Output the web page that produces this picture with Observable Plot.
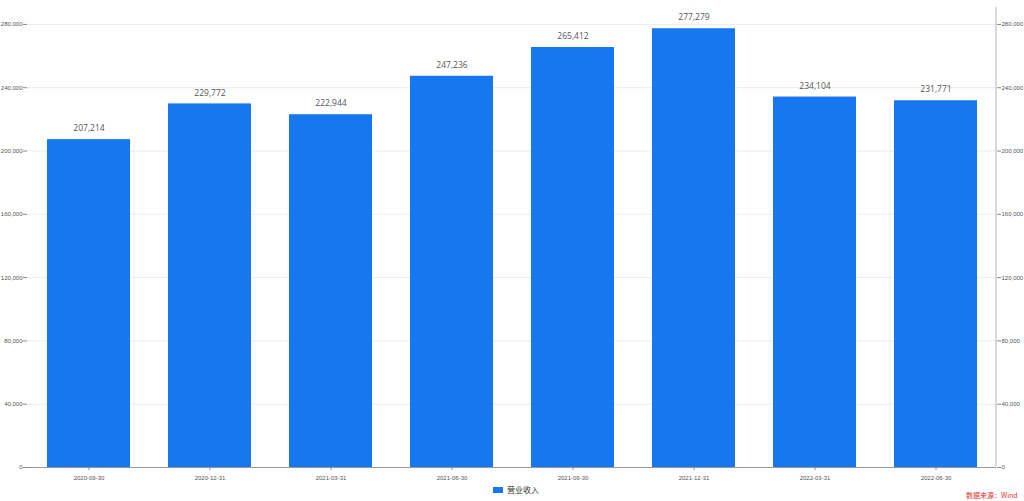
<!DOCTYPE html>
<html>
<head>
<meta charset="utf-8">
<script src="https://cdn.jsdelivr.net/npm/d3@7"></script>
<script src="https://cdn.jsdelivr.net/npm/@observablehq/plot@0.6"></script>
<style>
  html, body { margin: 0; padding: 0; background: #fff; }
  #wrap { position: relative; width: 1024px; height: 501px; overflow: hidden; font-family: "Noto Sans CJK SC", "Liberation Sans", sans-serif; }
  #legend { position: absolute; left: 493px; top: 484px; font-size: 8px; color: #333; display: flex; align-items: center; white-space: nowrap; }
  #legend .sw { width: 10px; height: 6px; background: #1677F0; margin-right: 4px; }
  #source { position: absolute; left: 966px; top: 490px; font-size: 7px; color: #e0302a; white-space: nowrap; }
</style>
</head>
<body>
<div id="wrap">
  <div id="chart"></div>
  <div id="legend"><span class="sw"></span><span id="legendLabel"></span></div>
  <div id="source"></div>
</div>
<script>
const dates = ["2020-09-30","2020-12-31","2021-03-31","2021-06-30","2021-09-30","2021-12-31","2022-03-31","2022-06-30"];
const revenue = [207214, 229772, 222944, 247236, 265412, 277279, 234104, 231771];
const seriesName = "营业收入";
const sourceText = "数据来源：Wind";
const yTicks = [0, 40000, 80000, 120000, 160000, 200000, 240000, 280000];
const barColor = "#1677F0";

const data = dates.map((d, i) => ({date: d, value: revenue[i]}));
const fmt = d3.format(",");

const chart = Plot.plot({
  width: 1024,
  height: 501,
  marginTop: 7,
  marginBottom: 34,
  marginLeft: 27,
  marginRight: 28,
  style: {fontFamily: "'Liberation Sans', 'Noto Sans', sans-serif", background: "#fff"},
  x: {domain: dates, paddingInner: 0.315, paddingOuter: 0.157, align: 0.5},
  y: {domain: [0, 290700]},
  marks: [
    Plot.gridY(yTicks, {stroke: "#ececec", strokeOpacity: 1}),
    Plot.barY(data, {x: "date", y: "value", fill: barColor}),
    Plot.text(data, {x: "date", y: "value", text: d => fmt(d.value), dy: -11, fontSize: 8.5, fill: "#555", fontFamily: "'Open Sans', 'Liberation Sans', sans-serif"}),
    Plot.ruleY([0], {stroke: "#999"}),
    Plot.ruleX([0], {frameAnchor: "left", stroke: "#ccc", strokeWidth: 1.5}),
    Plot.axisY({anchor: "left", ticks: yTicks, tickSize: 4, tickPadding: 1, tickFormat: fmt, fontSize: 6, color: "#555", stroke: "#888", label: null}),
    Plot.axisY({anchor: "right", ticks: yTicks, tickSize: 4, tickPadding: 1, tickFormat: fmt, fontSize: 6, color: "#555", stroke: "#888", label: null}),
    Plot.axisX({anchor: "bottom", tickSize: 3, tickPadding: 5, fontSize: 6, color: "#555", stroke: "#888", label: null})
  ]
});
// right axis line
d3.select(chart).append("line")
  .attr("x1", 996).attr("x2", 996).attr("y1", 7).attr("y2", 467)
  .attr("stroke", "#ccc").attr("stroke-width", 1.5);
document.getElementById("chart").appendChild(chart);
document.getElementById("legendLabel").textContent = seriesName;
document.getElementById("source").textContent = sourceText;
</script>
</body>
</html>
